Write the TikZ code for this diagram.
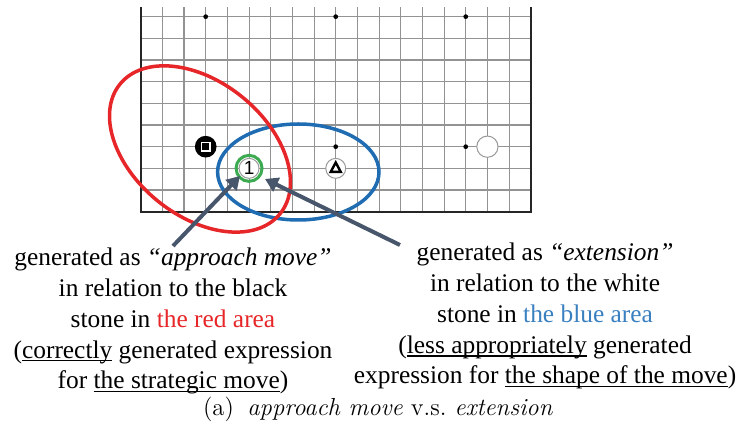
\documentclass[tikz,border=0pt]{standalone}
\usepackage{fontspec}
\newfontfamily\timesfont{Liberation Serif}
\newfontfamily\numfont{Liberation Sans}
\usetikzlibrary{calc,arrows.meta}
\definecolor{areared}{RGB}{230,38,40}
\definecolor{areablue}{RGB}{32,108,178}
\definecolor{textblue}{RGB}{58,128,192}
\definecolor{ringgreen}{RGB}{60,170,80}
\definecolor{arrowgray}{RGB}{72,86,108}
\newcommand{\undl}[1]{\setbox0\hbox{#1}\rlap{\rule[-1.7pt]{\wd0}{0.8pt}}\box0\relax}

\begin{document}
\begin{tikzpicture}[x=10.835pt,y=10.835pt,
  stone/.style={draw=gray!80, line width=0.5pt, fill=white},
  note/.style={font=\timesfont\fontsize{12.7}{15.4}\selectfont, align=center, anchor=north, inner sep=0pt},
  pointer/.style={arrowgray, line width=2pt, -{Triangle[length=6.5pt,width=7.5pt]}}]
\useasboundingbox (-6.493,-10.166) rectangle (27.748,9.769);
% board
\foreach \i in {0,...,18}{\draw[gray!85, line width=0.55pt] (\i,0)--(\i,9.45);}
\foreach \j in {0,...,9}{\draw[gray!85, line width=0.55pt] (0,\j)--(18,\j);}
\draw[black!85, line width=1pt] (0,9.45)--(0,0)--(18,0)--(18,9.45);
\foreach \p in {(3,9),(9,9),(15,9),(9,3),(15,3)}{\fill \p circle (0.11);}
% stones
\coordinate (B) at (3,3);
\fill (B) circle (0.5);
\draw[white, line width=0.9pt, fill=black] ($(B)+(-0.19,-0.19)$) rectangle ($(B)+(0.19,0.19)$);
\coordinate (M) at (5,2);
\draw[stone] (M) circle (0.46);
\node[font=\numfont\fontsize{9.5}{9.5}\selectfont, inner sep=0pt] (m1) at (M) {1};
\draw[ringgreen, line width=1.5pt] (M) circle (0.6);
\coordinate (T) at (9,2);
\draw[stone] (T) circle (0.46);
\draw[line width=1.2pt] ($(T)+(0,0.27)$)--($(T)+(0.23,-0.16)$)--($(T)+(-0.23,-0.16)$)--cycle;
\coordinate (W) at (16,3);
\draw[stone] (W) circle (0.49);
% areas
\draw[areablue, line width=1.75pt] (7.273,1.832) ellipse (3.724 and 2.215);
\draw[areared, line width=1.75pt, rotate around={-39:(2.736,2.894)}] (2.736,2.894) ellipse (4.753 and 3.092);
% pointers
\coordinate (a1) at (1.49,-1.583);
\coordinate (h1) at (4.58,1.647);
\coordinate (a2) at (11.965,-1.537);
\coordinate (h2) at (5.736,1.509);
\draw[pointer] (a1)--(h1);
\draw[pointer] (a2)--(h2);
% texts
\node[note] (approach) at (1.49,-1.66) {generated as \textit{“approach move”}\\ in relation to the black\\ stone in \textcolor{areared}{the red area}\\ (\undl{correctly} generated expression\\ for \undl{the strategic move})};
\node[note] (extension) at (18.66,-1.43) {generated as \textit{“extension”}\\ in relation to the white\\ stone in \textcolor{textblue}{the blue area}\\ (\undl{less appropriately} generated\\ expression for \undl{the shape of the move})};
\node[font=\fontsize{12.3}{14}\selectfont, anchor=base, inner sep=0pt] (caption) at (10.95,-9.405) {(a)\hspace{0.55em}\textit{approach move} v.s.\ \textit{extension}};
\end{tikzpicture}
\end{document}
